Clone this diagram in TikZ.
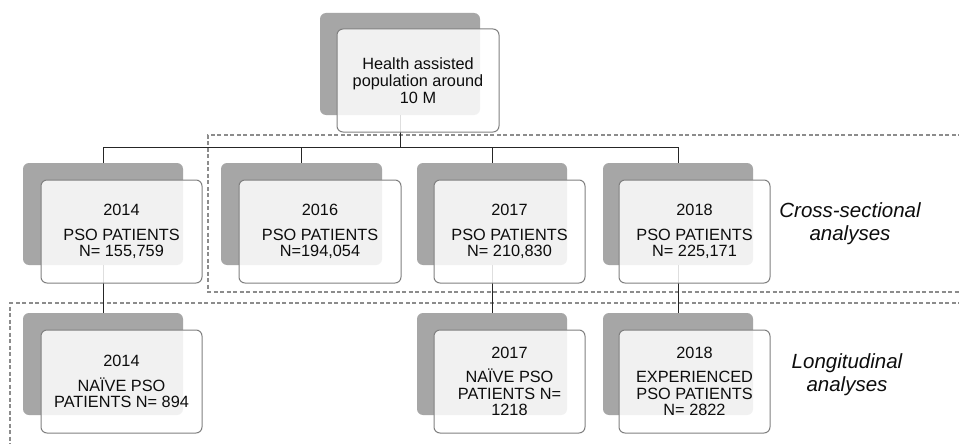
\documentclass[tikz,border=0pt]{standalone}
\usepackage{fontspec}
\setmainfont{Liberation Sans}
\begin{document}
\begin{tikzpicture}[x=1pt,y=-1pt,
  backbox/.style={fill=backgray, draw=none, rounded corners=6pt, inner sep=0pt},
  frontbox/.style={fill=white, fill opacity=0.85, text opacity=1, draw=bordergray, line width=1pt,
    rounded corners=6pt, inner sep=0pt, align=center, text=black!95,
    font=\fontsize{16.3}{16.5}\selectfont},
  conn/.style={draw=black!85, line width=1pt},
  region/.style={draw=dashgray, line width=1.2pt, dash pattern=on 4pt off 2.5pt},
  sidelabel/.style={align=center, text=black!95, font=\fontsize{20.5}{23}\selectfont\itshape}
]
\definecolor{backgray}{HTML}{A6A6A6}
\definecolor{bordergray}{HTML}{808080}
\definecolor{dashgray}{HTML}{8C8C8C}
\useasboundingbox (0,0) rectangle (959,444);
\clip (0,0) rectangle (959,444);
\fill[white] (0,0) rectangle (959,444);

% dashed regions
\coordinate (r1a) at (975,135);
\coordinate (r1b) at (208,135);
\coordinate (r1c) at (208,292);
\coordinate (r1d) at (975,292);
\draw[region] (r1a) -- (r1b) -- (r1c) -- (r1d);
\coordinate (r2a) at (975,303);
\coordinate (r2b) at (10,303);
\coordinate (r2c) at (10,460);
\draw[region] (r2a) -- (r2b) -- (r2c);

% back boxes
\node[backbox, minimum width=160pt, minimum height=102pt] (tb) at (400,64) {};
\node[backbox, minimum width=160pt, minimum height=102pt] (b14) at (103,214) {};
\node[backbox, minimum width=161pt, minimum height=102pt] (b16) at (301.5,214) {};
\node[backbox, minimum width=150pt, minimum height=102pt] (b17) at (492,214) {};
\node[backbox, minimum width=150pt, minimum height=102pt] (b18) at (678,214) {};
\node[backbox, minimum width=160pt, minimum height=102pt] (c14) at (103,364) {};
\node[backbox, minimum width=150pt, minimum height=102pt] (c17) at (492,364) {};
\node[backbox, minimum width=150pt, minimum height=102pt] (c18) at (678,364) {};

% connectors
\coordinate (bar) at (0,147);
\draw[conn] (tb.south) -- (tb.south |- bar);
\draw[conn] (b14.north) -- (b14.north |- bar) -- (b18.north |- bar) -- (b18.north);
\draw[conn] (b16.north) -- (b16.north |- bar);
\draw[conn] (b17.north) -- (b17.north |- bar);
\draw[conn] (b14.south) -- (c14.north);
\draw[conn] (b17.south) -- (c17.north);
\draw[conn] (b18.south) -- (c18.north);

% front boxes
\node[frontbox, minimum width=162pt, minimum height=103pt, font=\fontsize{16.3}{17.3}\selectfont] (tf) at (418,80.5)
  {Health assisted\\population around\\10 M};
\node[frontbox, minimum width=161pt, minimum height=103pt] (f14) at (121.5,231.5)
  {2014\\[8pt]PSO PATIENTS\\N= 155,759};
\node[frontbox, minimum width=162pt, minimum height=103pt] (f16) at (320,231.5)
  {2016\\[8pt]PSO PATIENTS\\N=194,054};
\node[frontbox, minimum width=151pt, minimum height=103pt] (f17) at (509.5,231.5)
  {2017\\[8pt]PSO PATIENTS\\N= 210,830};
\node[frontbox, minimum width=151pt, minimum height=103pt] (f18) at (694.5,231.5)
  {2018\\[8pt]PSO PATIENTS\\N= 225,171};
\node[frontbox, minimum width=161pt, minimum height=103pt] (g14) at (121.5,381.5)
  {2014\\[8pt]NAÏVE PSO\\PATIENTS N= 894};
\node[frontbox, minimum width=151pt, minimum height=103pt] (g17) at (509.5,381.5)
  {2017\\[8pt]NAÏVE PSO\\PATIENTS N=\\1218};
\node[frontbox, minimum width=151pt, minimum height=103pt] (g18) at (694.5,381.5)
  {2018\\[8pt]EXPERIENCED\\PSO PATIENTS\\N= 2822};

% side labels
\node[sidelabel] (cs) at (850,224) {Cross-sectional\\analyses};
\node[sidelabel] (lg) at (847,375) {Longitudinal\\analyses};
\end{tikzpicture}
\end{document}
